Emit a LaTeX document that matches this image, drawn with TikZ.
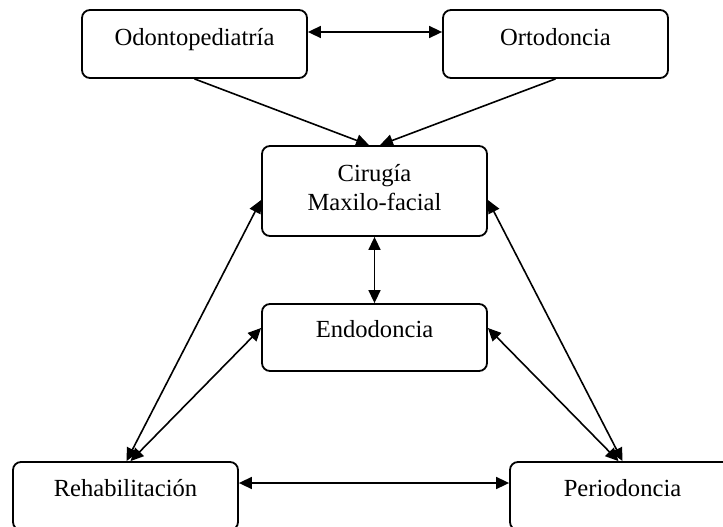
\documentclass[tikz,border=0pt]{standalone}
\usepackage{fontspec}
\setmainfont{Liberation Serif}
\usetikzlibrary{arrows.meta,calc}
\begin{document}
\begin{tikzpicture}[x=1pt,y=-1pt,
  box/.style={draw, line width=1.8pt, rounded corners=8pt, minimum width=225pt, inner sep=0pt},
  lbl/.style={inner sep=0pt, anchor=base, align=center, font=\fontsize{24.6pt}{29pt}\selectfont},
  link/.style={line width=1.6pt, {Triangle[length=13pt,width=12pt]}-{Triangle[length=13pt,width=12pt]}},
  feed/.style={line width=1.6pt, -{Triangle[length=13pt,width=12pt]}}]
\fill[white] (0,0) rectangle (723,527);
\clip (0,0) rectangle (723,527);
% boxes
\node[box, minimum height=68pt] (odo) at (194.5,44) {};
\node[box, minimum height=68pt] (ort) at (555.5,44) {};
\node[box, minimum height=90pt] (cir) at (374.5,191) {};
\node[box, minimum height=67pt] (endo) at (374.5,337.5) {};
\node[box, minimum height=68pt] (reh) at (125.5,496) {};
\node[box, minimum height=68pt] (per) at (622.5,496) {};
% texts
\node[lbl] (odot) at ($(odo.north)+(0,36)$) {Odontopediatría};
\node[lbl] (ortt) at ($(ort.north)+(0,36)$) {Ortodoncia};
\node[lbl] (cirt) at ($(cir.north)+(0,65)$) {Cirugía\\Maxilo-facial};
\node[lbl] (endot) at ($(endo.north)+(0,34)$) {Endodoncia};
\node[lbl] (reht) at ($(reh.north)+(0,35)$) {Rehabilitación};
\node[lbl] (pert) at ($(per.north)+(0,35)$) {Periodoncia};
% connectors
\draw[link] ([yshift=12pt]odo.east) -- ([yshift=12pt]ort.west);
\draw[feed] (odo.south) -- ([xshift=-5.5pt]cir.north);
\draw[feed] (ort.south) -- ([xshift=5.5pt]cir.north);
\draw[link] (cir.south) -- (endo.north);
\draw[link] ([yshift=-9pt]cir.west) -- ([xshift=1pt]reh.north);
\draw[link] ([yshift=9.5pt]endo.west) -- ([xshift=5pt]reh.north);
\draw[link] ([yshift=-9pt]cir.east) -- (per.north);
\draw[link] ([yshift=9.5pt]endo.east) -- ([xshift=-4pt]per.north);
\draw[link] ([yshift=13pt]reh.east) -- ([yshift=13pt]per.west);
\end{tikzpicture}
\end{document}
